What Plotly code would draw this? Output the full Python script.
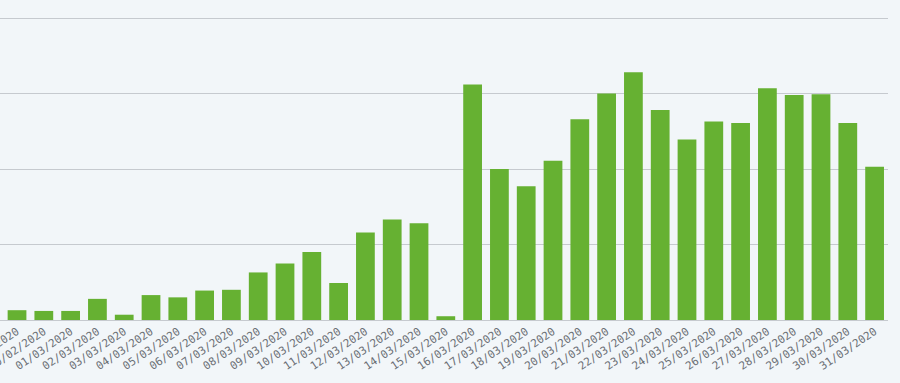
import plotly.graph_objects as go

dates = ["28/02/2020", "29/02/2020"] + [f"{d:02d}/03/2020" for d in range(1, 32)]
values = [13, 12, 12, 28, 7, 33, 30, 39, 40, 63, 75, 90, 49, 116, 133, 128, 5,
          312, 200, 177, 211, 266, 300, 328, 278, 239, 263, 261, 307, 298, 299, 261, 203]

bg = "#f2f6f9"
grid = "#c6cacf"

fig = go.Figure(go.Bar(x=dates, y=values, marker=dict(color="#66b132", line=dict(width=0)),
                       hoverinfo="skip"))
fig.update_layout(
    width=900, height=383,
    margin=dict(l=0, r=12, t=10, b=63, pad=0),
    paper_bgcolor=bg, plot_bgcolor=bg,
    bargap=0.3, showlegend=False,
    template="none",
)
fig.update_xaxes(
    type="category", range=[-0.635, 32.5], automargin=False,
    tickangle=-34, tickfont=dict(family="DejaVu Sans Mono", size=11, color="#6b6f75"),
    showgrid=False, showline=True, linecolor=grid, linewidth=1, ticks="",
)
fig.update_yaxes(
    range=[0, 410.6], dtick=100, showticklabels=False, automargin=False,
    showgrid=True, gridcolor=grid, gridwidth=1, zeroline=False, showline=False, ticks="",
)
fig.write_html("out.html", config={"displayModeBar": False},
               post_script="document.body.style.margin='0';document.body.style.background='%s';" % bg)
